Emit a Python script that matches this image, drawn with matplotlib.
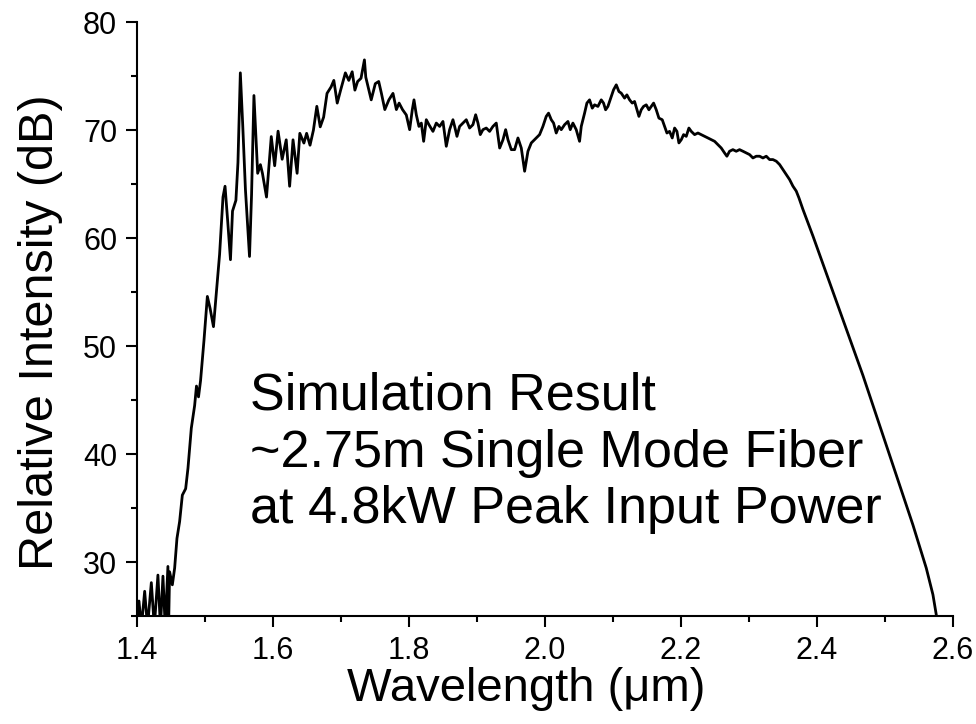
import matplotlib
matplotlib.use("Agg")
import matplotlib.pyplot as plt
from matplotlib.ticker import MultipleLocator, FormatStrFormatter

# spectrum (wavelength in um, intensity in dB)
wavelength = [
    1.400, 1.4034, 1.407, 1.4118, 1.416, 1.4216, 1.426, 1.4313, 1.435, 1.4387,
    1.442, 1.4460, 1.447, 1.4485, 1.4525, 1.4559, 1.4593, 1.4632, 1.4672, 1.4721,
    1.4755, 1.4804, 1.4853, 1.488, 1.491, 1.494, 1.499, 1.504, 1.508, 1.513,
    1.518, 1.522, 1.527, 1.530, 1.534, 1.538, 1.541, 1.546, 1.549, 1.5525,
    1.556, 1.560, 1.566, 1.569, 1.5725, 1.576, 1.578, 1.582, 1.585, 1.591,
    1.598, 1.603, 1.608, 1.614, 1.620, 1.625, 1.630, 1.636, 1.640, 1.646,
    1.650, 1.655, 1.660, 1.665, 1.670, 1.675, 1.680, 1.686, 1.690, 1.695,
    1.700, 1.707, 1.712, 1.717, 1.721, 1.725, 1.730, 1.735, 1.737, 1.745,
    1.751, 1.756, 1.760, 1.765, 1.771, 1.777, 1.782, 1.786, 1.791, 1.7966,
    1.8015, 1.8054, 1.8079, 1.8113, 1.8152, 1.8187, 1.8221, 1.8260, 1.8299, 1.8358,
    1.8407, 1.8456, 1.8505, 1.8554, 1.8603, 1.8652, 1.8677, 1.8711, 1.8750, 1.8799,
    1.8848, 1.8897, 1.8946, 1.8986, 1.9020, 1.9054, 1.9093, 1.9142, 1.9191, 1.9240,
    1.9289, 1.9339, 1.9388, 1.9427, 1.9461, 1.9510, 1.9559, 1.9608, 1.9657, 1.9706,
    1.9755, 1.9804, 1.9877, 1.9926, 1.9975, 2.0024, 2.0058, 2.0098, 2.0132, 2.0171,
    2.0210, 2.0245, 2.0294, 2.0343, 2.0377, 2.0416, 2.0465, 2.0514, 2.0539, 2.0588,
    2.0622, 2.0661, 2.0701, 2.0735, 2.0784, 2.0833, 2.0867, 2.0897, 2.0931, 2.0980,
    2.1014, 2.1054, 2.1093, 2.1127, 2.1176, 2.1210, 2.1250, 2.1289, 2.1323, 2.1358,
    2.1387, 2.1421, 2.1455, 2.1495, 2.1534, 2.1568, 2.1603, 2.1642, 2.1681, 2.1730,
    2.1765, 2.1799, 2.1838, 2.1877, 2.1912, 2.1946, 2.1975, 2.2010, 2.2044, 2.2083,
    2.2122, 2.2157, 2.2206, 2.2255, 2.2304, 2.2353, 2.2402, 2.2451, 2.2500, 2.2549,
    2.2598, 2.2647, 2.2681, 2.2720, 2.2769, 2.2818, 2.2867, 2.2917, 2.2966, 2.3015,
    2.3064, 2.3113, 2.3162, 2.3211, 2.3260, 2.3309, 2.3358, 2.3407, 2.3456, 2.3505,
    2.3554, 2.3603, 2.3652, 2.3701, 2.3740, 2.3799, 2.3946, 2.4191, 2.4436, 2.4681,
    2.4926, 2.5172, 2.5417, 2.5613, 2.5711, 2.5760, 2.578,
]
intensity = [
    24.0, 26.4, 24.0, 27.3, 24.0, 28.1, 24.0, 28.8, 24.0, 28.7,
    24.0, 29.6, 24.0, 29.1, 27.9, 29.45, 32.2, 33.75, 36.2, 36.8,
    38.7, 42.4, 44.5, 46.3, 45.3, 46.8, 50.5, 54.6, 53.5, 51.8,
    55.5, 58.5, 63.8, 64.8, 61.5, 58.0, 62.5, 63.5, 67.0, 75.3,
    70.5, 64.5, 58.3, 64.0, 73.2, 68.5, 66.0, 66.8, 66.0, 63.8,
    69.4, 66.7, 69.9, 67.3, 69.1, 64.8, 69.1, 66.0, 69.7, 68.8,
    69.7, 68.6, 70.0, 72.2, 70.3, 71.2, 73.4, 74.0, 74.6, 72.5,
    73.7, 75.3, 74.6, 75.4, 73.7, 74.5, 74.8, 76.5, 74.9, 72.8,
    74.3, 74.5, 73.4, 71.9, 72.8, 73.4, 71.9, 72.5, 71.9, 71.4,
    70.04, 71.88, 72.80, 71.42, 70.34, 70.65, 68.96, 70.96, 70.50, 69.88,
    70.65, 70.34, 70.80, 68.50, 70.04, 70.96, 70.34, 69.42, 70.34, 70.65,
    70.96, 70.19, 70.50, 71.42, 70.65, 69.58, 70.04, 70.19, 69.88, 70.34,
    70.65, 68.34, 69.11, 70.04, 69.11, 68.19, 68.19, 69.27, 68.34, 66.19,
    68.04, 68.81, 69.27, 69.58, 70.34, 71.27, 71.57, 70.96, 70.65, 69.73,
    70.34, 70.04, 70.50, 70.80, 70.04, 70.65, 70.04, 68.96, 70.34, 71.57,
    72.50, 72.80, 72.03, 72.34, 72.19, 72.80, 72.50, 71.88, 72.19, 73.11,
    73.73, 74.19, 73.57, 73.42, 72.96, 73.26, 72.80, 72.50, 72.65, 71.88,
    71.27, 71.88, 72.19, 72.34, 71.88, 72.19, 72.50, 71.88, 71.11, 70.96,
    70.34, 69.73, 69.88, 69.27, 70.19, 69.88, 68.81, 69.11, 69.58, 69.42,
    70.19, 69.88, 69.58, 69.73, 69.58, 69.42, 69.27, 69.11, 68.96, 68.65,
    68.34, 67.88, 67.58, 68.04, 68.19, 68.04, 68.19, 68.04, 67.88, 67.73,
    67.42, 67.58, 67.58, 67.42, 67.58, 67.27, 67.27, 67.12, 66.81, 66.35,
    65.89, 65.42, 64.81, 64.35, 63.73, 62.66, 60.2, 55.9, 51.6, 47.3,
    42.7, 38.06, 33.44, 29.45, 26.99, 25.14, 24.0,
]

note_lines = [
    "Simulation Result",
    "~2.75m Single Mode Fiber",
    "at 4.8kW Peak Input Power",
]

plt.rcParams['font.family'] = ['Liberation Sans', 'DejaVu Sans']

fig = plt.figure(figsize=(9.76, 7.24), dpi=100)
ax = fig.add_axes([0.140, 0.149, 0.836, 0.8205])

ax.plot(wavelength, intensity, color='black', lw=2.0)

ax.set_xlim(1.4, 2.6)
ax.set_ylim(25, 80)

ax.spines['top'].set_visible(False)
ax.spines['right'].set_visible(False)
for side in ['left', 'bottom']:
    ax.spines[side].set_linewidth(1.5)

ax.xaxis.set_major_locator(MultipleLocator(0.2))
ax.xaxis.set_minor_locator(MultipleLocator(0.1))
ax.xaxis.set_major_formatter(FormatStrFormatter('%.1f'))
ax.yaxis.set_major_locator(MultipleLocator(10))
ax.yaxis.set_minor_locator(MultipleLocator(5))
ax.tick_params(which='major', direction='out', length=8, width=1.5, labelsize=22)
ax.tick_params(which='minor', direction='out', length=4.5, width=1.5)
ax.tick_params(axis='x', which='major', pad=6)
ax.tick_params(axis='y', which='major', pad=6)

ax.set_xlabel('Wavelength (\u03bcm)', fontsize=34)
ax.set_ylabel('Relative Intensity (dB)', fontsize=35)
ax.xaxis.set_label_coords(0.478, -0.085)
ax.yaxis.set_label_coords(-0.09, 0.478)

# annotation, one line per entry
baselines = [0.434, 0.355, 0.277]
for line, yb in zip(note_lines, baselines):
    fig.text(0.256, yb, line, fontsize=37.5, ha='left', va='baseline')

fig.savefig('out.png', dpi=100)
